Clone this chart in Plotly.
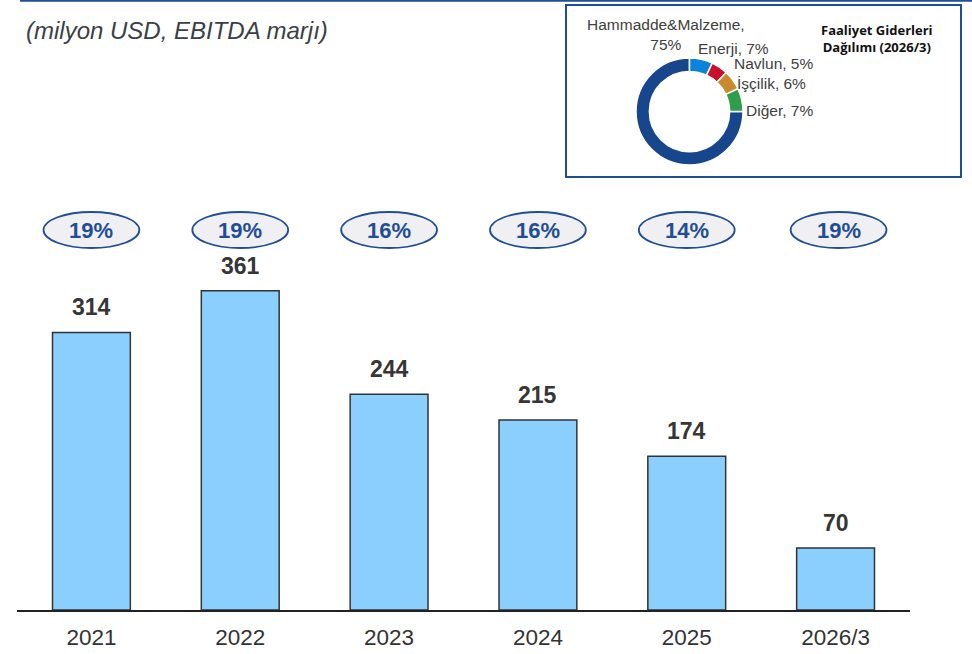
import plotly.graph_objects as go

# ---- data ----
years = ["2021", "2022", "2023", "2024", "2025", "2026/3"]
ebitda = [314, 361, 244, 215, 174, 70]
margins = ["19%", "19%", "16%", "16%", "14%", "19%"]

pie_labels = ["Hammadde&Malzeme", "Enerji", "Navlun", "İşçilik", "Diğer"]
pie_values = [75, 7, 5, 6, 7]
pie_colors = ["#17468c", "#0a84d8", "#c8102e", "#c98a2e", "#2e9e4a"]

W, H = 972, 654
ML, MR, MT, MB = 17, 62, 0, 44
PW, PH = W - ML - MR, H - MT - MB
YMAX = 690

def px_x(p):
    return (p - ML) / PW

def px_y(p):
    return (H - MB - p) / PH

fig = go.Figure()
fig.add_trace(go.Bar(
    x=years, y=ebitda, width=0.523,
    marker=dict(color="#8acffd", line=dict(color="#333333", width=1.5)),
    hoverinfo="skip", showlegend=False,
))

fig.add_trace(go.Pie(
    labels=pie_labels, values=pie_values, hole=0.75, sort=False,
    direction="clockwise", rotation=90,
    marker=dict(colors=pie_colors, line=dict(color="white", width=1.5)),
    textinfo="none", showlegend=False, hoverinfo="skip",
    domain=dict(x=[px_x(636), px_x(743)], y=[px_y(165), px_y(58)]),
))

shapes = []
annotations = []
# value labels & margin ellipses
for i, (yr, v, m) in enumerate(zip(years, ebitda, margins)):
    annotations.append(dict(x=i, y=v, yref="y", xref="x", text=f"<b>{v}</b>",
                            showarrow=False, yshift=25,
                            font=dict(family="Liberation Sans, Arial", size=23, color="#363636")))
    ecx = i + (0.02 if i == 5 else 0)
    ecy = (H - MB - 230) / PH * YMAX
    dy = 18 / PH * YMAX
    shapes.append(dict(type="circle", xref="x", yref="y",
                       x0=ecx - 0.322, x1=ecx + 0.322, y0=ecy - dy, y1=ecy + dy,
                       fillcolor="#f0f0f2", line=dict(color="#1f4e96", width=1.8), layer="below"))
    annotations.append(dict(x=ecx, y=ecy, xref="x", yref="y", text=f"<b>{m}</b>",
                            showarrow=False,
                            font=dict(family="Liberation Sans, Arial", size=22, color="#1f4e96")))

# top blue rule
shapes.append(dict(type="line", xref="paper", yref="paper",
                   x0=px_x(20), x1=px_x(972), y0=px_y(0.8), y1=px_y(0.8),
                   line=dict(color="#1f4e96", width=2)))
# inset box
shapes.append(dict(type="rect", xref="paper", yref="paper",
                   x0=px_x(566), x1=px_x(961), y0=px_y(177), y1=px_y(5),
                   line=dict(color="#1f4e96", width=2), fillcolor="rgba(0,0,0,0)", layer="below"))

annotations.append(dict(x=px_x(24), y=px_y(30), xref="paper", yref="paper",
                        xanchor="left", yanchor="middle", showarrow=False,
                        text="<i>(milyon USD, EBITDA marjı)</i>",
                        font=dict(family="Liberation Sans, Arial", size=24, color="#3a3f45")))

annotations.append(dict(x=px_x(877), y=px_y(38), xref="paper", yref="paper",
                        xanchor="center", yanchor="middle", showarrow=False, align="center",
                        text="<b>Faaliyet Giderleri<br>Dağılımı (2026/3)</b>",
                        font=dict(family="Open Sans", size=13, color="#111111")))

lab_font = dict(family="Liberation Sans, Arial", size=15.5, color="#404040")
pie_text = [
    (666, 35, "Hammadde&Malzeme,<br>75%", "center"),
    (696, 48, "Enerji, 7%", "left"),
    (732, 63, "Navlun, 5%", "left"),
    (735, 84, "İşçilik, 6%", "left"),
    (744, 111, "Diğer, 7%", "left"),
]
for x, y, t, a in pie_text:
    annotations.append(dict(x=px_x(x), y=px_y(y), xref="paper", yref="paper",
                            xanchor=a, yanchor="middle", showarrow=False, align="center",
                            text=t, font=lab_font))

fig.update_layout(
    width=W, height=H,
    margin=dict(l=ML, r=MR, t=MT, b=MB),
    paper_bgcolor="white", plot_bgcolor="white",
    shapes=shapes, annotations=annotations,
    xaxis=dict(type="category", range=[-0.5, 5.5], showline=True, linecolor="#222222", linewidth=1.5,
               ticks="outside", ticklen=6, tickcolor="rgba(0,0,0,0)", showgrid=False, zeroline=False,
               tickfont=dict(family="Liberation Sans, Arial", size=22.5, color="#333333")),
    yaxis=dict(range=[0, YMAX], visible=False, showgrid=False, zeroline=False),
    bargap=0.477,
)
fig.write_html("out.html", config={"displayModeBar": False},
               post_script="document.body.style.margin='0';document.body.style.overflow='hidden';")
